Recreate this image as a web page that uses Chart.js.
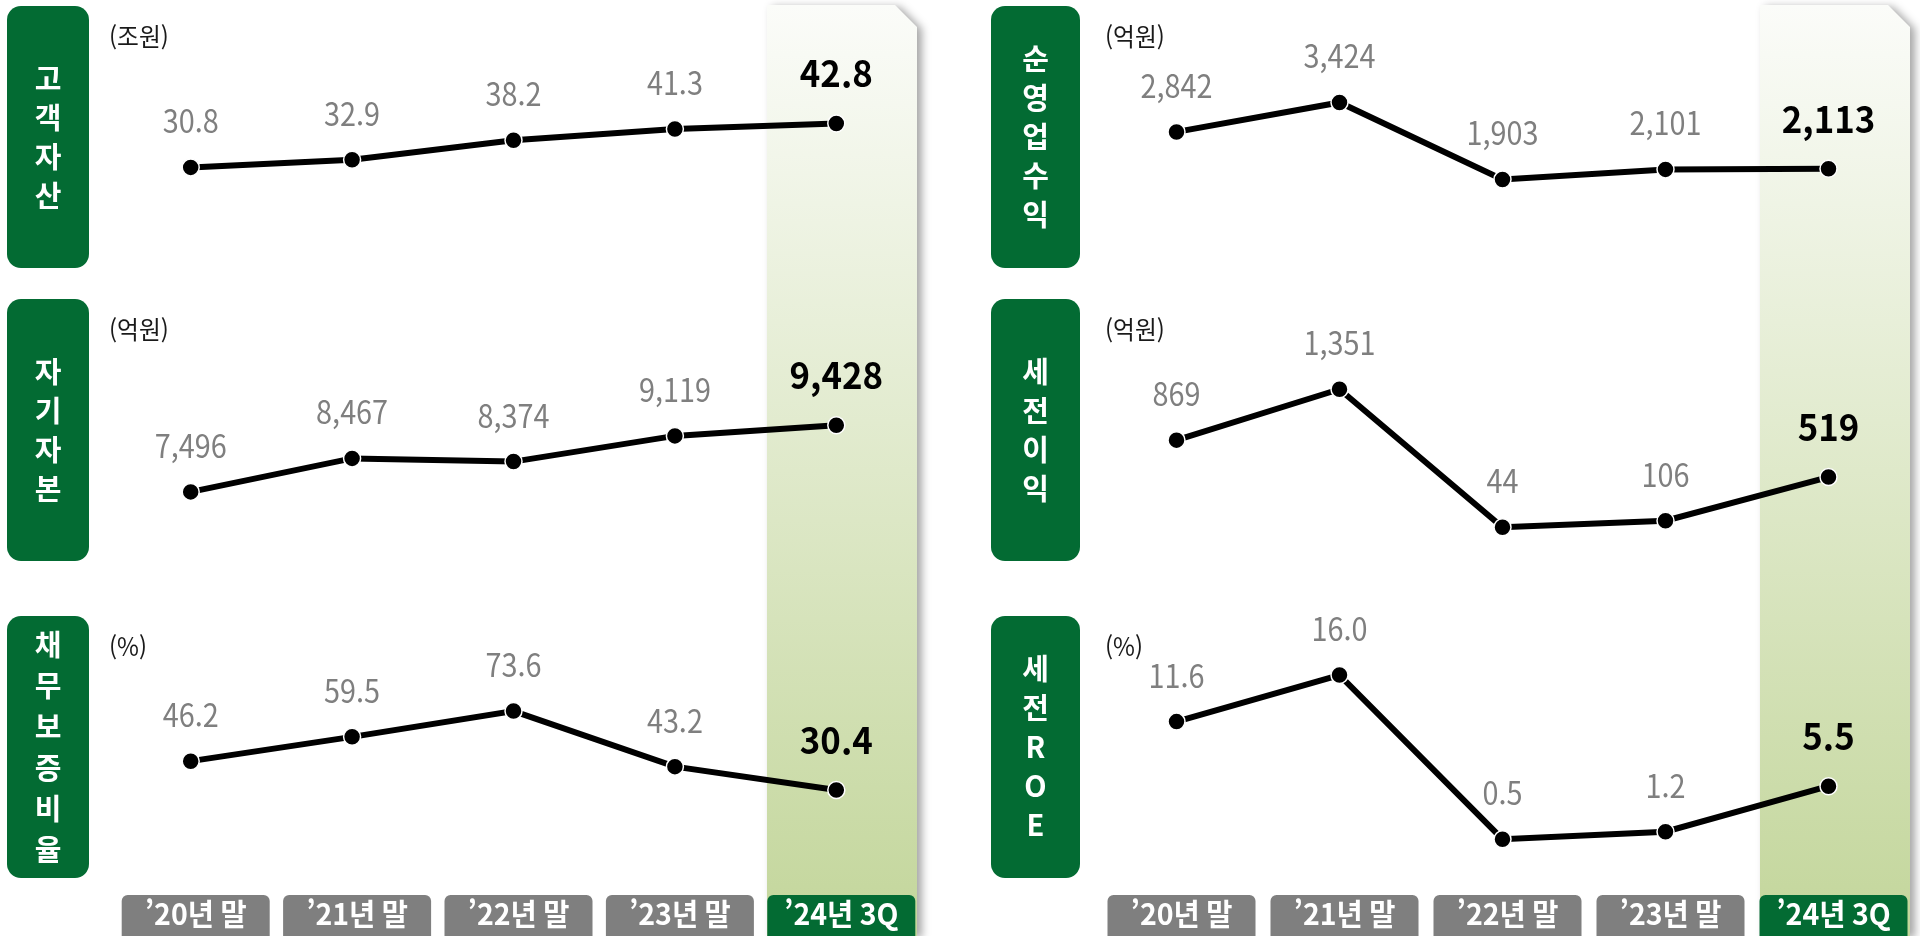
<!DOCTYPE html>
<html lang="ko">
<head>
<meta charset="utf-8">
<title>주요 재무지표</title>
<script src="https://cdn.jsdelivr.net/npm/chart.js@4.4.1/dist/chart.umd.min.js"></script>
<style>
  html, body { margin: 0; padding: 0; background: #fff; }
  body { width: 1920px; height: 936px; position: relative; overflow: hidden; }
  .panel { position: absolute; top: 0; width: 960px; height: 936px; }
  #left { left: 0; }
  #right { left: 960px; }
</style>
</head>
<body>
<div class="panel" id="left"><canvas id="chartLeft"></canvas></div>
<div class="panel" id="right"><canvas id="chartRight"></canvas></div>
<script>
const categories = ['’20년 말', '’21년 말', '’22년 말', '’23년 말', '’24년 3Q'];

// 왼쪽 패널
const clientAssets = [30.8, 32.9, 38.2, 41.3, 42.8];      // 조원
const equityCapital = [7496, 8467, 8374, 9119, 9428];     // 억원
const guaranteeRatio = [46.2, 59.5, 73.6, 43.2, 30.4];    // %

// 오른쪽 패널
const netOperatingRevenue = [2842, 3424, 1903, 2101, 2113]; // 억원
const pretaxIncome = [869, 1351, 44, 106, 519];             // 억원
const pretaxRoe = [11.6, 16.0, 0.5, 1.2, 5.5];              // %

const leftTitles = ['고객자산', '자기자본', '채무보증비율'];
const rightTitles = ['순영업수익', '세전이익', '세전ROE'];
const leftUnits = ['(조원)', '(억원)', '(%)'];
const rightUnits = ['(억원)', '(억원)', '(%)'];
const leftDecimals = [1, 0, 1];
const rightDecimals = [0, 0, 1];

// 행별 y축 범위 (각 행 높이 안에서 선 위치 맞춤)
const leftRanges = [[-6.3, 73.75], [4460, 12960], [-24.3, 136.2]];
const rightRanges = [[-546, 5251], [-614, 2165], [-4.3, 23.4]];

const FONT = '"Noto Sans CJK KR", "Noto Sans", sans-serif';
const GREEN = '#036b33';
const GRAY = '#7f7f7f';
const boxTops = [6, 299, 616];
const boxHeight = 262;

function fmt(v, d) {
    return v.toLocaleString('en-US', { minimumFractionDigits: d, maximumFractionDigits: d });
}

function roundRect(ctx, x, y, w, h, r) {
    ctx.beginPath();
    ctx.roundRect(x, y, w, h, r);
    ctx.fill();
}

// 살짝 좁은 글꼴 느낌으로 찍기
function narrowText(ctx, txt, x, y, sx) {
    ctx.save();
    ctx.translate(x, y);
    ctx.scale(sx, 1);
    ctx.fillText(txt, 0, 0);
    ctx.restore();
}

const panelDecor = {
    id: 'panelDecor',
    beforeDraw(chart, args, opts) {
        const ctx = chart.ctx;
        const x = chart.scales.x;
        const n = categories.length;
        const band = x.width / n;
        const right = x.getPixelForValue(n - 1) + band / 2;
        const left = right - 150;
        const top = 5, bottom = chart.height;

        // 최근 분기 강조 기둥
        ctx.save();
        const grad = ctx.createLinearGradient(0, top, 0, bottom);
        grad.addColorStop(0, '#fbfcf9');
        grad.addColorStop(1, '#c3d69b');
        ctx.shadowColor = 'rgba(0,0,0,0.35)';
        ctx.shadowBlur = 8;
        ctx.shadowOffsetX = 5;
        ctx.shadowOffsetY = 2;
        ctx.beginPath();
        ctx.moveTo(left, top);
        ctx.lineTo(right - 22, top);
        ctx.lineTo(right, top + 22);
        ctx.lineTo(right, bottom);
        ctx.lineTo(left, bottom);
        ctx.closePath();
        ctx.fillStyle = grad;
        ctx.fill();
        ctx.restore();

        // 지표명 상자 + 단위
        ctx.save();
        opts.titles.forEach((title, i) => {
            const bt = boxTops[i];
            ctx.fillStyle = GREEN;
            roundRect(ctx, opts.boxX, bt, opts.boxW, boxHeight, 14);

            const chars = Array.from(title);
            const step = chars.length > 5 ? 41 : 39;
            const cy = bt + boxHeight / 2 - (chars.length - 1) * step / 2;
            ctx.fillStyle = '#fff';
            ctx.font = 'bold 29px ' + FONT;
            ctx.textAlign = 'center';
            ctx.textBaseline = 'middle';
            chars.forEach((c, k) => ctx.fillText(c, opts.boxX + opts.boxW / 2, cy + k * step));

            ctx.fillStyle = '#1a1a1a';
            ctx.font = '25px ' + FONT;
            ctx.textAlign = 'left';
            narrowText(ctx, opts.units[i], opts.boxX + opts.boxW + opts.unitGap, bt + 30, 0.95);
        });
        ctx.restore();
    },
    afterDatasetsDraw(chart, args, opts) {
        const ctx = chart.ctx;
        ctx.save();
        ctx.textAlign = 'center';
        ctx.textBaseline = 'alphabetic';
        chart.data.datasets.forEach((ds, d) => {
            const meta = chart.getDatasetMeta(d);
            meta.data.forEach((pt, i) => {
                const last = i === ds.data.length - 1;
                const txt = fmt(ds.data[i], opts.decimals[d]);
                if (last) {
                    ctx.fillStyle = '#000';
                    ctx.font = 'bold 37px ' + FONT;
                    narrowText(ctx, txt, pt.x, pt.y - 36, 0.94);
                } else {
                    ctx.fillStyle = GRAY;
                    ctx.font = '32px ' + FONT;
                    narrowText(ctx, txt, pt.x, pt.y - 34, 0.9);
                }
            });
        });
        ctx.restore();
    },
    afterDraw(chart) {
        // x축 항목 상자
        const ctx = chart.ctx;
        const x = chart.scales.x;
        ctx.save();
        categories.forEach((label, i) => {
            const cx = x.getPixelForValue(i) + 5;
            ctx.fillStyle = i === categories.length - 1 ? GREEN : GRAY;
            roundRect(ctx, cx - 74, 895, 148, 50, 6);
            ctx.fillStyle = '#fff';
            ctx.font = 'bold 30px ' + FONT;
            ctx.textAlign = 'center';
            ctx.textBaseline = 'middle';
            narrowText(ctx, label, cx, 914, 0.95);
        });
        ctx.restore();
    }
};

function rowAxis(range, weight) {
    return {
        type: 'linear',
        display: false,
        position: 'left',
        stack: 'rows',
        stackWeight: 1,
        weight: weight,
        min: range[0],
        max: range[1]
    };
}

function lineSet(values, axis) {
    return {
        data: values,
        yAxisID: axis,
        borderColor: '#000',
        borderWidth: 6,
        pointRadius: 8.5,
        pointBackgroundColor: '#000',
        pointBorderColor: '#fff',
        pointBorderWidth: 1.5,
        tension: 0,
        clip: false
    };
}

function makePanel(canvasId, series, ranges, titles, units, decimals, pad, box) {
    return new Chart(document.getElementById(canvasId), {
        type: 'line',
        data: {
            labels: categories,
            datasets: [
                lineSet(series[0], 'y1'),
                lineSet(series[1], 'y2'),
                lineSet(series[2], 'y3')
            ]
        },
        options: {
            responsive: true,
            maintainAspectRatio: false,
            animation: false,
            layout: { padding: pad },
            plugins: {
                legend: { display: false },
                tooltip: { enabled: false },
                panelDecor: { titles: titles, units: units, decimals: decimals,
                              boxX: box.x, boxW: box.w, unitGap: box.gap }
            },
            scales: {
                x: { display: false, offset: true },
                y3: rowAxis(ranges[2], 1),
                y2: rowAxis(ranges[1], 2),
                y1: rowAxis(ranges[0], 3)
            }
        },
        plugins: [panelDecor]
    });
}

const chartLeft = makePanel('chartLeft',
    [clientAssets, equityCapital, guaranteeRatio],
    leftRanges, leftTitles, leftUnits, leftDecimals,
    { left: 110, right: 43, top: 10, bottom: 46 },
    { x: 7, w: 82, gap: 20 });

const chartRight = makePanel('chartRight',
    [netOperatingRevenue, pretaxIncome, pretaxRoe],
    rightRanges, rightTitles, rightUnits, rightDecimals,
    { left: 135, right: 8, top: 10, bottom: 46 },
    { x: 31, w: 89, gap: 25 });
</script>
</body>
</html>
